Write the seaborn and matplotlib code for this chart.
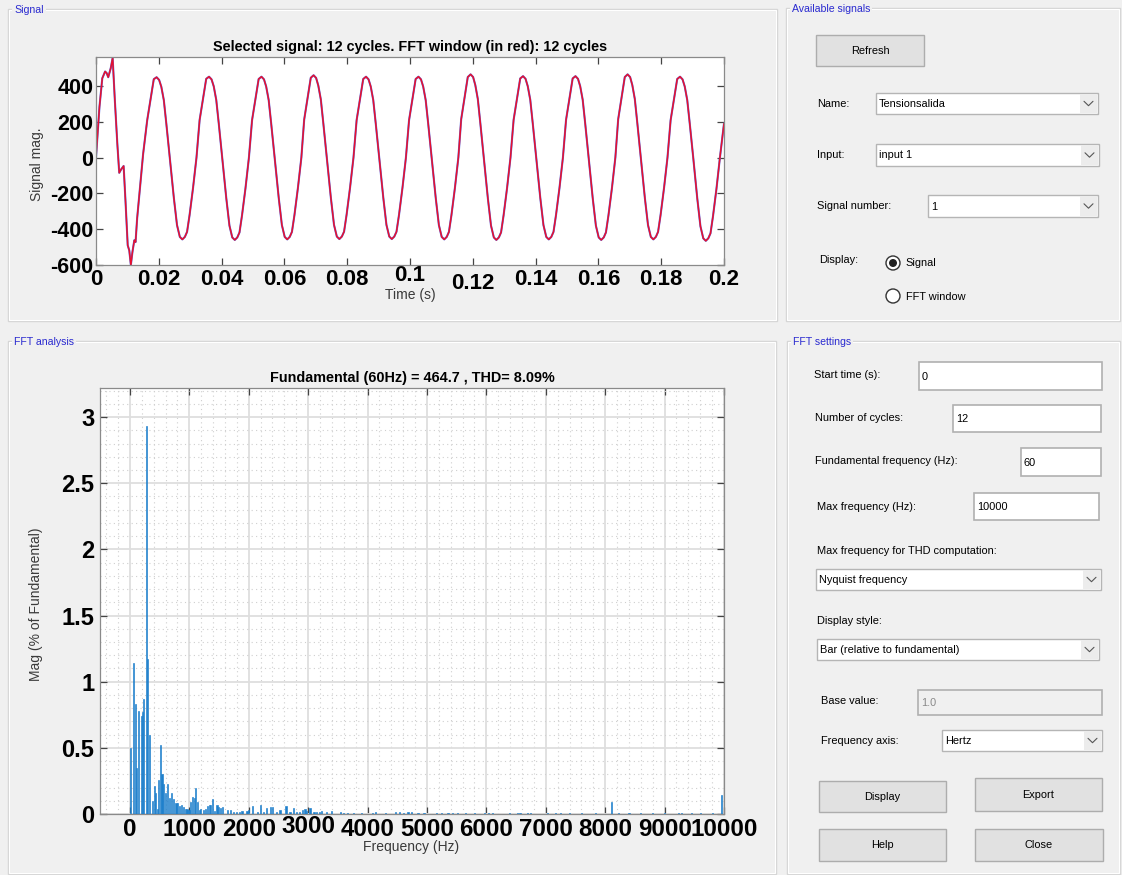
import matplotlib
matplotlib.use('Agg')
import matplotlib.pyplot as plt
import matplotlib.transforms as mtransforms
import seaborn as sns
import numpy as np
from matplotlib.patches import Rectangle, Ellipse
from matplotlib.lines import Line2D

sns.set_theme(style='white')
plt.rcParams['font.family'] = ['Liberation Sans', 'DejaVu Sans']

# ---------------- data ----------------
time_s = [
    0.0000, 0.0011, 0.0020, 0.0029, 0.0034, 0.0039, 0.0047, 0.0053, 0.0060, 0.0068,
    0.0074, 0.0080, 0.0088, 0.0094, 0.0101, 0.0106, 0.0111, 0.0116, 0.0122, 0.0126,
    0.0131, 0.0140, 0.0150,
    0.0163, 0.0175, 0.0184, 0.0193, 0.0201, 0.0208, 0.0216, 0.0224, 0.0235, 0.0248, 0.0258, 0.0267, 0.0275, 0.0283, 0.0290, 0.0298, 0.0309, 0.0320,
    0.0330, 0.0342, 0.0351, 0.0360, 0.0368, 0.0375, 0.0383, 0.0391, 0.0402, 0.0415, 0.0425, 0.0434, 0.0442, 0.0450, 0.0457, 0.0465, 0.0476, 0.0487,
    0.0497, 0.0509, 0.0518, 0.0527, 0.0535, 0.0542, 0.0550, 0.0558, 0.0569, 0.0582, 0.0592, 0.0601, 0.0609, 0.0617, 0.0624, 0.0632, 0.0643, 0.0654,
    0.0663, 0.0675, 0.0684, 0.0693, 0.0701, 0.0708, 0.0716, 0.0724, 0.0735, 0.0748, 0.0758, 0.0767, 0.0775, 0.0783, 0.0790, 0.0798, 0.0809, 0.0820,
    0.0830, 0.0842, 0.0851, 0.0860, 0.0868, 0.0875, 0.0883, 0.0891, 0.0902, 0.0915, 0.0925, 0.0934, 0.0942, 0.0950, 0.0957, 0.0965, 0.0976, 0.0987,
    0.0997, 0.1009, 0.1018, 0.1027, 0.1035, 0.1042, 0.1050, 0.1058, 0.1069, 0.1082, 0.1092, 0.1101, 0.1109, 0.1117, 0.1124, 0.1132, 0.1143, 0.1154,
    0.1163, 0.1175, 0.1184, 0.1193, 0.1201, 0.1208, 0.1216, 0.1224, 0.1235, 0.1248, 0.1258, 0.1267, 0.1275, 0.1283, 0.1290, 0.1298, 0.1309, 0.1320,
    0.1330, 0.1342, 0.1351, 0.1360, 0.1368, 0.1375, 0.1383, 0.1391, 0.1402, 0.1415, 0.1425, 0.1434, 0.1442, 0.1450, 0.1457, 0.1465, 0.1476, 0.1487,
    0.1497, 0.1509, 0.1518, 0.1527, 0.1535, 0.1542, 0.1550, 0.1558, 0.1569, 0.1582, 0.1592, 0.1601, 0.1609, 0.1617, 0.1624, 0.1632, 0.1643, 0.1654,
    0.1663, 0.1675, 0.1684, 0.1693, 0.1701, 0.1708, 0.1716, 0.1724, 0.1735, 0.1748, 0.1758, 0.1767, 0.1775, 0.1783, 0.1790, 0.1798, 0.1809, 0.1820,
    0.1830, 0.1842, 0.1851, 0.1860, 0.1868, 0.1875, 0.1883, 0.1891, 0.1902, 0.1915, 0.1925, 0.1934, 0.1942, 0.1950, 0.1957, 0.1965, 0.1976, 0.1987,
    0.2000,
]
signal_mag = [
    0, 283, 443, 481, 472, 449, 500, 557, 321, 75,
    -85, -66, -47, -245, -490, -519, -600, -528, -462, -472,
    -340, -170, 19,
    208, 340, 438, 449, 434, 396, 321, 189, 0, -226, -377, -443, -457, -443, -415, -321, -170, 0,
    210, 342, 440, 452, 437, 398, 322, 190, 0, -228, -380, -446, -460, -446, -418, -323, -172, 0,
    209, 341, 439, 452, 437, 397, 321, 189, 0, -226, -377, -443, -457, -443, -415, -321, -170, 0,
    212, 345, 446, 460, 445, 402, 325, 191, 0, -225, -376, -441, -455, -441, -414, -320, -169, 0,
    209, 341, 439, 452, 437, 397, 321, 189, 0, -225, -376, -441, -455, -441, -414, -320, -169, 0,
    209, 341, 439, 452, 437, 397, 321, 189, 0, -226, -377, -443, -457, -443, -415, -321, -170, 0,
    214, 348, 450, 465, 450, 405, 327, 192, 0, -228, -380, -446, -460, -446, -418, -323, -172, 0,
    211, 343, 442, 455, 440, 399, 323, 190, 0, -226, -377, -443, -457, -443, -415, -321, -170, 0,
    211, 343, 442, 455, 440, 399, 323, 190, 0, -228, -380, -446, -460, -446, -418, -323, -172, 0,
    214, 348, 450, 465, 450, 405, 327, 192, 0, -226, -377, -443, -457, -443, -415, -321, -170, 0,
    209, 341, 439, 452, 437, 397, 321, 189, 0, -230, -384, -451, -465, -451, -423, -327, -174, 0,
    190,
]

freq_hz = [
    10, 60, 90, 115, 145, 190, 215, 235, 275, 295, 335, 380, 420, 435, 460, 485, 515, 540,
    570, 605, 635, 660, 700, 740, 775, 800, 835, 865, 900, 932, 962, 995,
    1020, 1060, 1090, 1110, 1140, 1165, 1190, 1240, 1275, 1310, 1345, 1360, 1395, 1430,
    1465, 1495, 1530, 1565, 1645, 1690, 1746, 1790, 1846, 1886, 1970, 1997, 2070, 2148,
    2205, 2248, 2305, 2360, 2406, 2473, 2528, 2629, 2696, 2752, 2808, 2853, 2909, 2948,
    2976, 3032, 3099, 3144, 3188, 3228, 3312, 3396, 3547, 3592, 3669, 3760, 3899,
    4090, 4139, 4300, 4475, 4542, 4600, 4682, 4738, 4850, 4950, 5157, 5241, 5353, 5431,
    5520, 5650, 5800, 5968, 6040, 6107, 6387, 6527, 6567, 6695, 6740, 7030, 7160, 7243,
    7400, 7600, 7842, 8100, 8221, 8400, 8600, 8800, 9000, 9240, 9280, 9450, 9600, 9800, 9960,
]
mag_pct = [
    0.50, 1.14, 0.83, 0.35, 0.78, 0.74, 0.77, 0.87, 2.93, 1.17, 0.60, 0.10, 0.21, 0.16, 0.04, 0.26, 0.52, 0.30,
    0.23, 0.16, 0.23, 0.12, 0.16, 0.11, 0.08, 0.08, 0.06, 0.07, 0.05, 0.04, 0.04, 0.03,
    0.09, 0.13, 0.12, 0.20, 0.09, 0.03, 0.04, 0.03, 0.04, 0.06, 0.07, 0.07, 0.11, 0.02,
    0.07, 0.05, 0.045, 0.05, 0.03, 0.03, 0.015, 0.015, 0.015, 0.02, 0.025, 0.03, 0.06, 0.015,
    0.07, 0.015, 0.045, 0.05, 0.05, 0.015, 0.03, 0.06, 0.015, 0.045, 0.015, 0.015, 0.03, 0.035,
    0.02, 0.045, 0.012, 0.012, 0.012, 0.02, 0.012, 0.025, 0.012, 0.01, 0.01, 0.008, 0.01,
    0.008, 0.012, 0.008, 0.012, 0.012, 0.01, 0.014, 0.014, 0.01, 0.008, 0.01, 0.01, 0.01, 0.01,
    0.008, 0.008, 0.008, 0.01, 0.01, 0.01, 0.01, 0.01, 0.01, 0.01, 0.01, 0.01, 0.01, 0.01,
    0.006, 0.006, 0.01, 0.09, 0.01, 0.006, 0.006, 0.006, 0.008, 0.01, 0.01, 0.008, 0.006, 0.008, 0.14,
]

signal_title = 'Selected signal: 12 cycles. FFT window (in red): 12 cycles'
fft_title = 'Fundamental (60Hz) = 464.7 , THD= 8.09%'
time_ticks = [0, 0.02, 0.04, 0.06, 0.08, 0.1, 0.12, 0.14, 0.16, 0.18, 0.2]
time_tick_labels = ['0', '0.02', '0.04', '0.06', '0.08', '0.1', '0.12', '0.14', '0.16', '0.18', '0.2']
signal_ticks = [-600, -400, -200, 0, 200, 400]
freq_ticks = [0, 1000, 2000, 3000, 4000, 5000, 6000, 7000, 8000, 9000, 10000]
mag_ticks = [0, 0.5, 1, 1.5, 2, 2.5, 3]
mag_tick_labels = ['0', '0.5', '1', '1.5', '2', '2.5', '3']

# GUI texts
panel_titles = ['Signal', 'Available signals', 'FFT analysis', 'FFT settings']
avail_labels = ['Name:', 'Input:', 'Signal number:', 'Display:']
avail_values = ['Tensionsalida', 'input 1', '1']
radio_labels = ['Signal', 'FFT window']
settings_labels = ['Start time (s):', 'Number of cycles:', 'Fundamental frequency (Hz):',
                   'Max frequency (Hz):', 'Max frequency for THD computation:', 'Display style:',
                   'Base value:', 'Frequency axis:']
settings_values = ['0', '12', '60', '10000', 'Nyquist frequency', 'Bar (relative to fundamental)',
                   '1.0', 'Hertz']
button_labels = ['Refresh', 'Display', 'Export', 'Help', 'Close']

# ---------------- figure ----------------
W, H = 1122, 875
BG = '#F0F0F0'
GUI_FS = 7.9
fig = plt.figure(figsize=(W / 100, H / 100), dpi=100, facecolor=BG)


def fx(x):
    return x / W


def fy(y):
    return 1 - y / H


def rect(x0, y0, x1, y1, fc='none', ec='#ADADAD', lw=1.0, z=1):
    fig.patches.append(Rectangle((fx(x0), fy(y1)), fx(x1) - fx(x0), fy(y0) - fy(y1),
                                 transform=fig.transFigure, facecolor=fc, edgecolor=ec,
                                 lw=lw, zorder=z))


def txt(x, y, s, size=GUI_FS, color='black', ha='left', va='center', weight='normal'):
    fig.text(fx(x), fy(y), s, fontsize=size, color=color, ha=ha, va=va, weight=weight)


def panel(x0, y0, x1, y1, title):
    rect(x0, y0, x1, y1, ec='#D5D5D5', lw=1.0)
    rect(x0 + 1, y0 + 1, x1 - 1, y1 - 1, ec='#FFFFFF', lw=0.8)
    fig.text(fx(x0 + 6), fy(y0 + 1), title, fontsize=7.6, color='#2A2AD0', ha='left',
             va='center', bbox=dict(facecolor=BG, edgecolor='none', pad=1.5), zorder=3)


def chevron(cx, cy):
    fig.lines.append(Line2D([fx(cx - 4.5), fx(cx), fx(cx + 4.5)],
                            [fy(cy - 2.2), fy(cy + 2.2), fy(cy - 2.2)],
                            transform=fig.transFigure, color='#555555', lw=0.8))


def dropdown(x0, y0, x1, y1, s):
    rect(x0, y0, x1, y1, fc='white', ec='#B5B5B5', lw=1.0)
    rect(x1 - 18, y0 + 1, x1 - 1, y1 - 1, fc='#ECECEC', ec='none')
    chevron(x1 - 9.5, (y0 + y1) / 2)
    txt(x0 + 3, (y0 + y1) / 2 + 0.5, s)


def editbox(x0, y0, x1, y1, s, disabled=False):
    rect(x0, y0, x1, y1, fc=BG if disabled else 'white', ec='#B0B0B0', lw=1.2)
    txt(x0 + 3, (y0 + y1) / 2 + 1, s, color='#8A8A8A' if disabled else 'black')


def button(x0, y0, x1, y1, s):
    rect(x0, y0, x1, y1, fc='#E1E1E1', ec='#ADADAD', lw=1.0)
    txt((x0 + x1) / 2, (y0 + y1) / 2, s, ha='center')


def radio(cx, cy, checked):
    fig.patches.append(Ellipse((fx(cx), fy(cy)), 14 / W, 14 / H, transform=fig.transFigure,
                               facecolor='white', edgecolor='#333333', lw=1.0, zorder=2))
    if checked:
        fig.patches.append(Ellipse((fx(cx), fy(cy)), 8 / W, 8 / H, transform=fig.transFigure,
                                   facecolor='#222222', edgecolor='none', zorder=3))


# panels
panel(8, 9, 777, 321, panel_titles[0])
panel(786, 8, 1120, 321, panel_titles[1])
panel(8, 341, 776, 874, panel_titles[2])
panel(787, 341, 1120, 874, panel_titles[3])

# Available signals widgets
button(816, 35, 924, 66, button_labels[0])
txt(817, 104, avail_labels[0])
dropdown(876, 93, 1098, 114, avail_values[0])
txt(817, 155, avail_labels[1])
dropdown(876, 144, 1099, 166, avail_values[1])
txt(817, 206, avail_labels[2])
dropdown(928, 195, 1098, 217, avail_values[2])
txt(819, 260, avail_labels[3])
radio(893, 263, True)
txt(905, 263.5, radio_labels[0])
radio(893, 296, False)
txt(906, 296.5, radio_labels[1])

# FFT settings widgets
txt(814, 375, settings_labels[0])
editbox(919, 362, 1102, 390, settings_values[0])
txt(815, 418, settings_labels[1])
editbox(953, 405, 1101, 432, settings_values[1])
txt(815, 461, settings_labels[2])
editbox(1021, 448, 1101, 476, settings_values[2])
txt(817, 506.5, settings_labels[3])
editbox(974, 493, 1099, 520, settings_values[3])
txt(817, 550.5, settings_labels[4])
dropdown(816, 569, 1101, 590, settings_values[4])
txt(817, 621.5, settings_labels[5])
dropdown(817, 639, 1099, 660, settings_values[5])
txt(821, 701, settings_labels[6])
editbox(918, 690, 1102, 715, settings_values[6], disabled=True)
txt(821, 741.5, settings_labels[7])
dropdown(942, 730, 1102, 751, settings_values[7])
button(819, 781, 946, 812, button_labels[1])
button(975, 778, 1102, 811, button_labels[2])
button(819, 829, 946, 861, button_labels[3])
button(975, 829, 1103, 861, button_labels[4])

# ---------------- signal axes ----------------
L1, R1, T1, B1 = 96, 724, 57, 265
ax1 = fig.add_axes([fx(L1), fy(B1), (R1 - L1) / W, (B1 - T1) / H], facecolor='white')
sns.lineplot(x=time_s, y=signal_mag, ax=ax1, color='#5A6FE0', lw=1.5)
sns.lineplot(x=time_s, y=signal_mag, ax=ax1, color='#E8102E', lw=1.1)
ax1.set_xlim(0, 0.2)
ax1.set_ylim(-600, 562)
ax1.set_xticks(time_ticks)
ax1.set_xticklabels(time_tick_labels)
ax1.set_yticks(signal_ticks)
ax1.set_yticklabels([str(v) for v in signal_ticks])
ax1.grid(False)

# ---------------- FFT axes ----------------
L2, R2, T2, B2 = 100, 724, 388, 814
ax2 = fig.add_axes([fx(L2), fy(B2), (R2 - L2) / W, (B2 - T2) / H], facecolor='white')
ax2.set_axisbelow(True)
ax2.bar(freq_hz, mag_pct, width=20, color='#1F80CC', edgecolor='#1F80CC', linewidth=0.45,
        zorder=3)
ax2.set_xlim(-503, 10000)
ax2.set_ylim(0, 3.22)
ax2.set_xticks(freq_ticks)
ax2.set_xticklabels([str(v) for v in freq_ticks])
ax2.set_yticks(mag_ticks)
ax2.set_yticklabels(mag_tick_labels)
ax2.set_xticks(np.arange(-400, 10000, 200), minor=True)
ax2.set_yticks(np.arange(0, 3.21, 0.1), minor=True)
ax2.grid(True, which='major', color='#DEDEDE', lw=1.3)
ax2.grid(True, which='minor', color='#CFCFCF', lw=0.8, ls=(0, (1, 3)))

for ax in (ax1, ax2):
    for sp in ax.spines.values():
        sp.set_color('#8A8A8A')
        sp.set_linewidth(0.9)
    ax.tick_params(which='major', direction='in', length=5, width=0.9, color='#444444',
                   top=True, right=True, bottom=True, left=True, pad=3)
    ax.tick_params(which='minor', length=0)

ax1.tick_params(axis='x', labelsize=16)
ax1.tick_params(axis='y', labelsize=15.5, pad=2)
ax2.tick_params(axis='x', labelsize=17.4, pad=3)
ax2.tick_params(axis='y', labelsize=17, pad=4)
for lab in ax1.get_xticklabels() + ax1.get_yticklabels() + ax2.get_xticklabels() + ax2.get_yticklabels():
    lab.set_fontweight('bold')
    lab.set_color('black')

# small vertical offsets of a few tick labels, as in the screenshot
def shift_label(lab, dy_px):
    off = mtransforms.ScaledTranslation(0, dy_px / 100, fig.dpi_scale_trans)
    lab.set_transform(lab.get_transform() + off)

xl1 = ax1.get_xticklabels()
shift_label(xl1[5], 4)
shift_label(xl1[6], -4)
xl2 = ax2.get_xticklabels()
shift_label(xl2[3], 3)

ax1.set_title(signal_title, fontsize=10.4, weight='bold', color='black', y=(B1 - 46.5) / (B1 - T1),
              va='center', pad=0)
ax2.set_title(fft_title, fontsize=10.4, weight='bold', color='black', y=(B2 - 378.5) / (B2 - T2),
              va='center', pad=0)

ax1.set_xlabel('Time (s)', fontsize=10, color='#3A3A3A')
ax1.xaxis.set_label_coords((410 - L1) / (R1 - L1), (B1 - 295) / (B1 - T1))
ax1.xaxis.label.set_va('center')
ax1.set_ylabel('Signal mag.', fontsize=10, color='#3A3A3A')
ax1.yaxis.set_label_coords((37 - L1) / (R1 - L1), (B1 - 164) / (B1 - T1))
ax1.yaxis.label.set_va('center')

ax2.set_xlabel('Frequency (Hz)', fontsize=10, color='#3A3A3A')
ax2.xaxis.set_label_coords((411 - L2) / (R2 - L2), (B2 - 847) / (B2 - T2))
ax2.xaxis.label.set_va('center')
ax2.set_ylabel('Mag (% of Fundamental)', fontsize=10, color='#3A3A3A')
ax2.yaxis.set_label_coords((36.5 - L2) / (R2 - L2), (B2 - 604) / (B2 - T2))
ax2.yaxis.label.set_va('center')

fig.savefig('out.png', dpi=100, facecolor=BG)
